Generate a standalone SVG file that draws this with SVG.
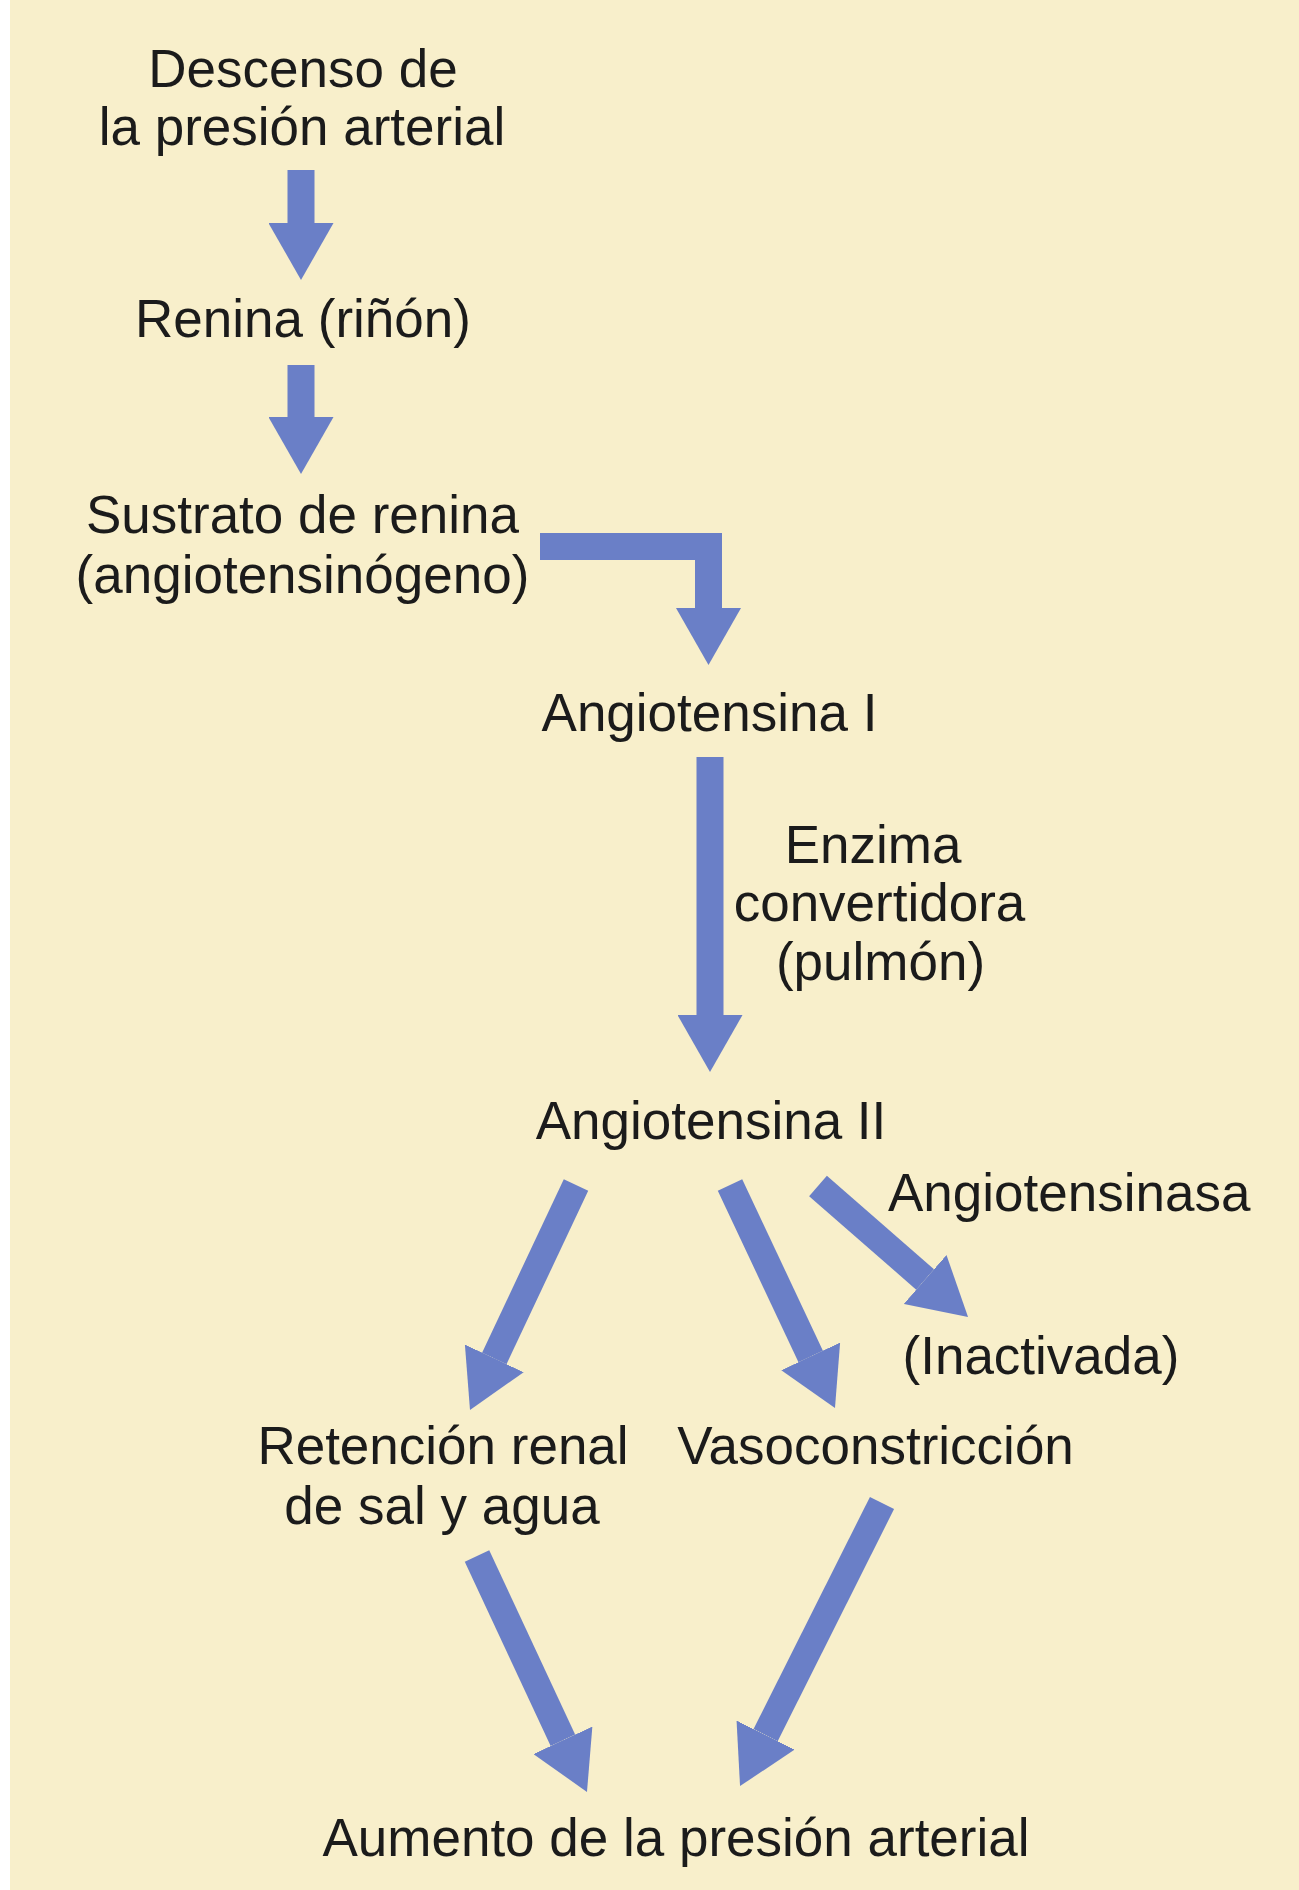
<svg xmlns="http://www.w3.org/2000/svg" width="1299" height="1890" viewBox="0 0 1299 1890">
<style>
.t{font-family:"Liberation Sans",Arial,Helvetica,sans-serif;font-size:53px;fill:#1b1b1b;text-anchor:middle}
.s{text-anchor:start}
.a{fill:none;stroke:#6a7fc7;stroke-width:27;stroke-linecap:butt;stroke-linejoin:miter;marker-end:url(#h)}
</style>
<defs>
<marker id="h" markerUnits="userSpaceOnUse" markerWidth="57" markerHeight="65" viewBox="0 0 57 65" refX="0" refY="32.5" orient="auto">
<path d="M0,0 L57,32.5 L0,65 Z" fill="#6a7fc7"/>
</marker>
</defs>
<rect x="0" y="0" width="1299" height="1890" fill="#ffffff"/>
<rect x="10" y="0" width="1289" height="1890" fill="#f8efcb"/>
<g id="connectors">
<line class="a" x1="301" y1="170" x2="301" y2="223"/>
<line class="a" x1="301" y1="365" x2="301" y2="417"/>
<polyline class="a" points="540,546.5 708.5,546.5 708.5,608"/>
<line class="a" x1="710" y1="757" x2="710" y2="1015"/>
<line class="a" x1="576" y1="1185" x2="494.3" y2="1358.4"/>
<line class="a" x1="730" y1="1185" x2="810.7" y2="1356.4"/>
<line class="a" x1="818" y1="1186" x2="925.1" y2="1279.5"/>
<line class="a" x1="477" y1="1556" x2="562.9" y2="1740.3"/>
<line class="a" x1="882" y1="1503" x2="765.6" y2="1735.1"/>
</g>
<g id="descenso"><text class="t" x="303" y="87">Descenso de</text><text class="t" x="302" y="145">la presión arterial</text></g>
<g id="renina"><text class="t" x="303" y="337">Renina (riñón)</text></g>
<g id="sustrato"><text class="t" x="302.5" y="533">Sustrato de renina</text><text class="t" x="302.5" y="593">(angiotensinógeno)</text></g>
<g id="angiotensina1"><text class="t" x="709.5" y="731">Angiotensina I</text></g>
<g id="enzima"><text class="t" x="873" y="863">Enzima</text><text class="t" x="879.5" y="921">convertidora</text><text class="t" x="880.5" y="980">(pulmón)</text></g>
<g id="angiotensina2"><text class="t" x="711" y="1139">Angiotensina II</text></g>
<g id="angiotensinasa"><text class="t s" x="888" y="1211">Angiotensinasa</text></g>
<g id="inactivada"><text class="t" x="1041" y="1374">(Inactivada)</text></g>
<g id="retencion"><text class="t" x="443" y="1464">Retención renal</text><text class="t" x="442" y="1524">de sal y agua</text></g>
<g id="vasoconstriccion"><text class="t" x="875.5" y="1464">Vasoconstricción</text></g>
<g id="aumento"><text class="t" x="676" y="1856">Aumento de la presión arterial</text></g>
</svg>
